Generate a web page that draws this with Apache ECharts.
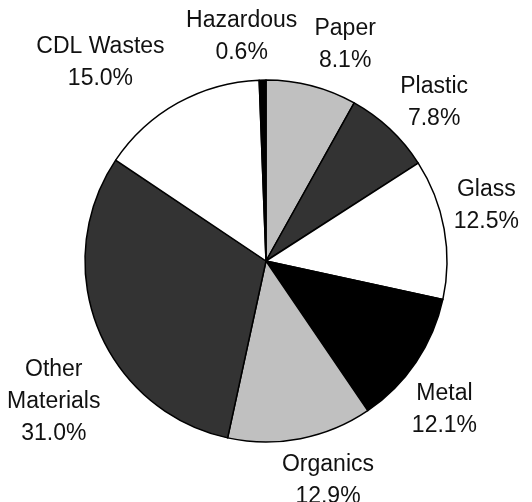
<!DOCTYPE html>
<html><head><meta charset="utf-8">
<script src="https://cdn.jsdelivr.net/npm/echarts@6/dist/echarts.min.js"></script>
<style>html,body{margin:0;padding:0;background:#fff}#c{width:532px;height:502px}</style>
</head><body><div id="c"></div>
<script>
const categories = ['Paper', 'Plastic', 'Glass', 'Metal', 'Organics', 'Other\nMaterials', 'CDL Wastes', 'Hazardous'];
const values = [8.1, 7.8, 12.5, 12.1, 12.9, 31.0, 15.0, 0.6];
const sliceColors = ['#c0c0c0', '#333333', '#ffffff', '#000000', '#c0c0c0', '#333333', '#ffffff', '#000000'];
const labelOffsets = [[21, 7], [10, 10], [-7, -14], [-13, 19], [18, -7], [2, 54], [-53, 3], [-20, 7]];

const chart = echarts.init(document.getElementById('c'), null, {renderer: 'canvas'});
const center = [266, 261];
chart.setOption({
  animation: false,
  series: [
    {
      type: 'pie', center: center, radius: [0, 181], startAngle: 90, clockwise: true,
      label: {show: false}, labelLine: {show: false}, silent: true,
      itemStyle: {borderColor: '#000', borderWidth: 1.5},
      data: categories.map((c, i) => ({name: c, value: values[i], itemStyle: {color: sliceColors[i]}}))
    },
    {
      type: 'pie', center: center, radius: [200, 256], startAngle: 90, clockwise: true, silent: true,
      itemStyle: {color: 'transparent', borderWidth: 0},
      labelLine: {show: false},
      label: {
        show: true, position: 'inside', color: '#111',
        fontFamily: 'Liberation Sans, Arial, sans-serif', fontSize: 23, lineHeight: 32,
        align: 'center', verticalAlign: 'middle',
        formatter: p => p.name + '\n' + p.value.toFixed(1) + '%'
      },
      data: categories.map((c, i) => ({name: c, value: values[i], label: {offset: labelOffsets[i]}}))
    }
  ]
});
</script></body></html>
